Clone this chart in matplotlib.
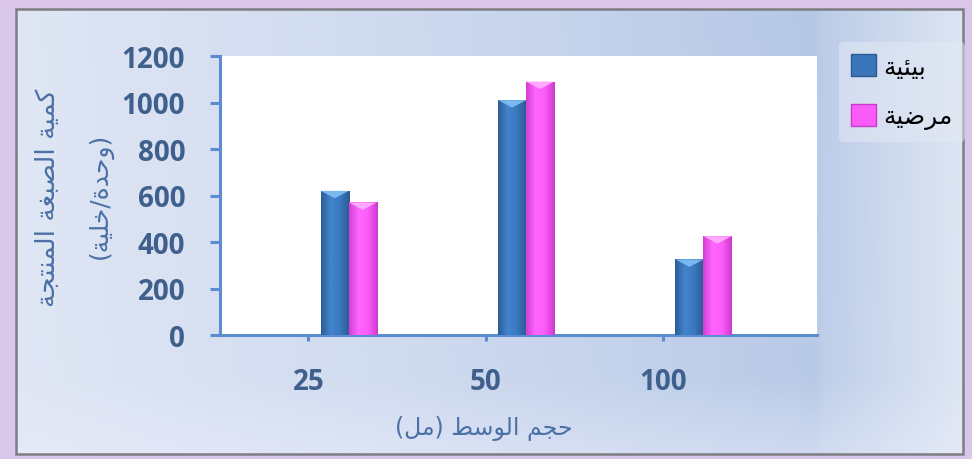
import numpy as np
import matplotlib
matplotlib.use("Agg")
import matplotlib.pyplot as plt
from matplotlib.colors import LinearSegmentedColormap, to_rgb
from matplotlib.patches import Patch, Rectangle, Polygon

# data
volumes = ["25", "50", "100"]
environmental = [620, 1010, 325]
clinical = [570, 1090, 425]
series_names = ["بيئية", "مرضية"]
x_title = "حجم الوسط (مل)"
y_title = ["كمية الصبغة المنتجة", "(وحدة/خلية)"]
y_ticks = [0, 200, 400, 600, 800, 1000, 1200]

# arabic letters -> isolated presentation form (dual joining: +1 fin, +2 ini, +3 med)
DUAL = {'ئ': 0xFE89, 'ب': 0xFE8F, 'ت': 0xFE95, 'ج': 0xFE9D, 'ح': 0xFEA1,
        'خ': 0xFEA5, 'س': 0xFEB1, 'ص': 0xFEB9, 'ض': 0xFEBD, 'ط': 0xFEC1,
        'غ': 0xFECD, 'ك': 0xFED9, 'ل': 0xFEDD, 'م': 0xFEE1, 'ن': 0xFEE5,
        'ي': 0xFEF1}
RIGHT = {'ا': 0xFE8D, 'ة': 0xFE93, 'د': 0xFEA9, 'ر': 0xFEAD, 'و': 0xFEED}


def shape(s):
    """ jednoduche spojovani arabskych pismen + otoceni pro LTR vykresleni """
    out = []
    for i, c in enumerate(s):
        base = DUAL.get(c, RIGHT.get(c))
        if base is None:
            out.append(c)
            continue
        prev = s[i - 1] if i > 0 else ''
        nxt = s[i + 1] if i + 1 < len(s) else ''
        j_prev = prev in DUAL
        j_next = c in DUAL and (nxt in DUAL or nxt in RIGHT)
        if j_prev and j_next:
            code = base + 3
        elif j_prev:
            code = base + 1
        elif j_next:
            code = base + 2
        else:
            code = base
        out.append(chr(code))
    mirror = {'(': ')', ')': '('}
    return ''.join(mirror.get(c, c) for c in reversed(out))


W, H = 972, 460
fig = plt.figure(figsize=(W / 100, H / 100), dpi=100, facecolor="#d9c6e9")

# pozadi s prechodem
bg = fig.add_axes([0, 0, 1, 1], zorder=-10)
bg.set_xlim(0, W)
bg.set_ylim(H, 0)
bg.axis("off")
xk = [16, 400, 815, 822, 963]
ck = np.array([to_rgb(c) for c in ["#dfe6f4", "#cfdaef", "#b6c8e6", "#bccde8", "#dde5f3"]])
px = np.arange(16, 963)
row = np.stack([np.interp(px, xk, ck[:, k]) for k in range(3)], axis=-1)
py = np.arange(10, 455)
light = np.interp(py, [10, 380, 455], [0.0, 0.05, 0.45])[:, None, None]
img = row[None, :, :] * (1 - light) + np.array([0.93, 0.94, 0.99]) * light
bg.imshow(img, extent=[16, 963, 455, 10], aspect="auto", interpolation="bilinear")
bg.add_patch(Rectangle((16, 10), 947, 445, fill=False, edgecolor="#7d7d82", lw=1.8))

ax = fig.add_axes([220 / W, 1 - 336 / H, 597 / W, 279 / H], facecolor="white")

x = np.arange(len(volumes))
bw = 0.158
blue_bars = ax.bar(x + 0.07, environmental, bw, align="edge", color="#3b76bd", zorder=3)
pink_bars = ax.bar(x + 0.07 + bw, clinical, bw, align="edge", color="#fb5cf8", zorder=3)

# leskle sloupce
cmaps = [LinearSegmentedColormap.from_list("b", ["#2b5d96", "#4384cc", "#3a78bf", "#2a5a90"]),
         LinearSegmentedColormap.from_list("p", ["#d23fd2", "#ff66ff", "#fb5cf8", "#cc3acc"])]
tops = ["#7ab8f0", "#ffa8ff"]
grad = np.linspace(0, 1, 60).reshape(1, -1)
for bars, cm, tc in zip([blue_bars, pink_bars], cmaps, tops):
    for p in bars:
        x0, y0, w, h = p.get_x(), p.get_y(), p.get_width(), p.get_height()
        im = ax.imshow(grad, extent=[x0, x0 + w, y0, y0 + h], cmap=cm,
                       aspect="auto", zorder=3.5)
        im.set_clip_path(p)
        ax.add_patch(Polygon([(x0, y0 + h), (x0 + w, y0 + h), (x0 + w * 0.5, y0 + h - 32)],
                             closed=True, facecolor=tc, edgecolor="none", zorder=4))

ax.set_xlim(-0.498, 2.868)
ax.set_ylim(0, 1200)
ax.set_xticks(x)
ax.set_xticklabels(volumes)
ax.set_yticks(y_ticks)

axis_col = "#5b8dd0"
for s in ["top", "right"]:
    ax.spines[s].set_visible(False)
for s in ["left", "bottom"]:
    ax.spines[s].set_color(axis_col)
    ax.spines[s].set_linewidth(2.2)
ax.tick_params(axis="y", length=7, width=2.2, color=axis_col, pad=18)
ax.tick_params(axis="x", length=4, width=2.2, color=axis_col, pad=19)
for lab in ax.get_xticklabels() + ax.get_yticklabels():
    lab.set_fontfamily(["Open Sans", "DejaVu Sans"])
    lab.set_fontweight("bold")
    lab.set_fontsize(20)
    lab.set_color("#3f5f8c")

title_col = "#4b70a6"
ax.set_xlabel(shape(x_title), family=["DejaVu Sans"], fontsize=17, color=title_col)
ax.xaxis.set_label_coords((484 - 220) / 597, -(416 - 336) / 279)
fig.text(48 / W, 1 - 198 / H, shape(y_title[0]), rotation=90, ha="center", va="center",
         family=["DejaVu Sans"], fontsize=19, color=title_col)
fig.text(100 / W, 1 - 196 / H, shape(y_title[1]), rotation=90, ha="center", va="center",
         family=["DejaVu Sans"], fontsize=18, color=title_col)

handles = [Patch(facecolor="#3b76bd", edgecolor="#2a5a90"),
           Patch(facecolor="#fb5cf8", edgecolor="#c83ac8")]
leg = fig.legend(handles, [shape(n) for n in series_names], loc="upper left",
                 bbox_to_anchor=(826 / W, 1 - 30 / H), frameon=True,
                 prop={"family": "DejaVu Sans", "size": 18},
                 handlelength=1.0, handleheight=1.0, handletextpad=0.3,
                 labelspacing=1.0, borderpad=0.5)
leg.get_frame().set_facecolor("#e4eaf5")
leg.get_frame().set_edgecolor("none")
leg.get_frame().set_alpha(0.5)

fig.savefig("out.png", dpi=100, facecolor=fig.get_facecolor())
